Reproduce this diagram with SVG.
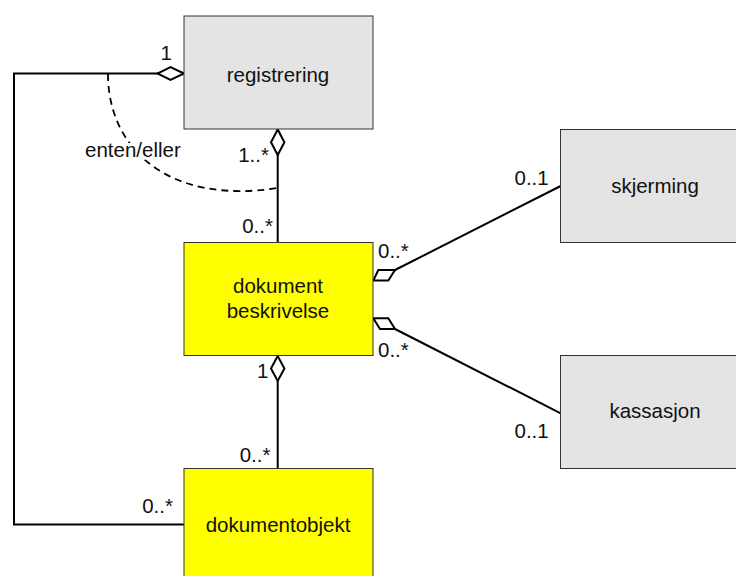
<svg xmlns="http://www.w3.org/2000/svg" width="736" height="576" viewBox="0 0 736 576">
<style>
.box{stroke:#333;stroke-width:1}
.gray{fill:#e4e4e4}
.yel{fill:#ffff00}
.t{font-family:"Liberation Sans",Arial,sans-serif;font-size:20.5px;fill:#111}
.c{text-anchor:middle}
.r{text-anchor:end}
.ln{fill:none;stroke:#000;stroke-width:2}
.dia{fill:#fff;stroke:#000;stroke-width:2;stroke-linejoin:miter}
.dash{fill:none;stroke:#000;stroke-width:1.8;stroke-dasharray:7 5}
</style>
<rect width="736" height="576" fill="#fff"/>
<g id="connectors">
<polyline class="ln" points="158,73.5 14,73.5 14,524.5 184,524.5"/>
<polygon class="dia" points="184,73.5 170.5,67 157.5,73.5 170.5,80"/>
<line class="ln" x1="277.7" y1="155" x2="277.7" y2="242.5"/>
<polygon class="dia" points="277.7,129.5 271,142.3 277.7,155 284.4,142.3"/>
<line class="ln" x1="277.7" y1="381" x2="277.7" y2="468.5"/>
<polygon class="dia" points="277.7,356 271,368.5 277.7,381 284.4,368.5"/>
<line class="ln" x1="395" y1="270" x2="560.7" y2="186"/>
<polygon class="dia" points="373.3,280.5 388.3,280.5 395,270 378.3,270"/>
<line class="ln" x1="395" y1="329" x2="560.7" y2="413.3"/>
<polygon class="dia" points="373.3,318.3 388.3,318.3 395,329 380,329"/>
<path class="dash" d="M108,74 C108,150 170,205 277.7,188"/>
<text class="t" x="85" y="156.7" stroke="#fff" stroke-width="6" paint-order="stroke">enten/eller</text>
<text class="t r" x="172" y="60">1</text>
<text class="t r" x="269" y="161.7">1..*</text>
<text class="t r" x="273" y="233.3">0..*</text>
<text class="t" x="378" y="257.7">0..*</text>
<text class="t" x="378" y="356.7">0..*</text>
<text class="t" x="514.5" y="185">0..1</text>
<text class="t" x="514.5" y="438">0..1</text>
<text class="t r" x="268.5" y="377.7">1</text>
<text class="t r" x="270.5" y="461.7">0..*</text>
<text class="t r" x="173" y="513">0..*</text>
</g>
<g id="registrering">
<rect class="box gray" x="184" y="16" width="189" height="113"/>
<text class="t c" x="278" y="81.7">registrering</text>
</g>
<g id="dokumentbeskrivelse">
<rect class="box yel" x="184" y="242.5" width="189" height="113"/>
<text class="t c" x="278" y="293.3">dokument</text>
<text class="t c" x="278" y="317.5">beskrivelse</text>
</g>
<g id="dokumentobjekt">
<rect class="box yel" x="184" y="468.5" width="189" height="113"/>
<text class="t c" x="278" y="531.7">dokumentobjekt</text>
</g>
<g id="skjerming">
<rect class="box gray" x="560.5" y="129.5" width="189" height="113"/>
<text class="t c" x="655" y="193.3">skjerming</text>
</g>
<g id="kassasjon">
<rect class="box gray" x="560.5" y="355.5" width="189" height="113"/>
<text class="t c" x="655" y="418.3">kassasjon</text>
</g>
</svg>
